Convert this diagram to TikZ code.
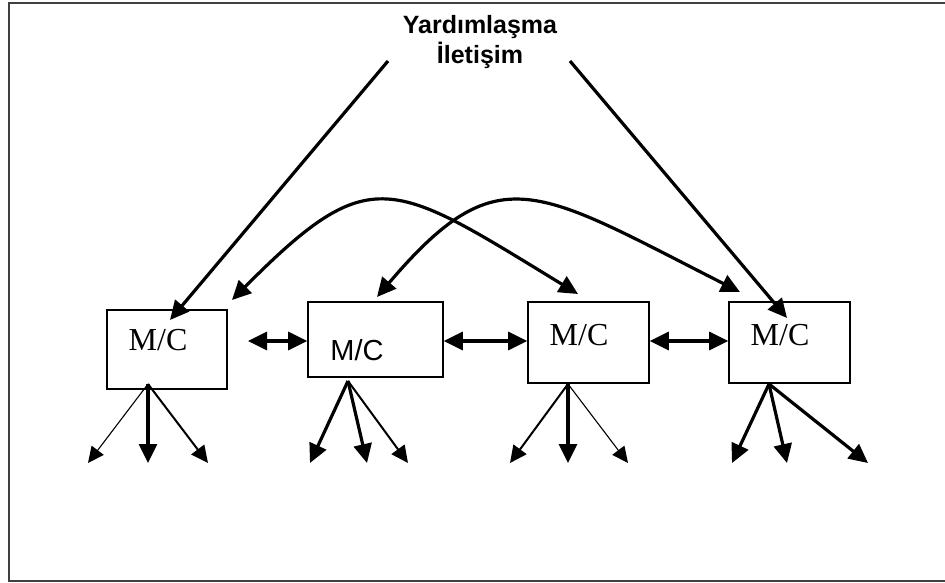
\documentclass[tikz,border=0pt]{standalone}
\usepackage{fontspec}
\setmainfont{Liberation Serif}
\newfontfamily\arialfont{Liberation Sans}
\usetikzlibrary{arrows.meta}
\begin{document}
\begin{tikzpicture}[x=1pt,y=-1pt,
  mcbox/.style={draw, line width=1.6pt, inner sep=0pt},
  mctext/.style={anchor=base, inner sep=0pt, font=\fontsize{32}{32}\selectfont},
  title/.style={anchor=base, inner sep=0pt, font=\arialfont\bfseries\fontsize{25}{25}\selectfont},
  frame/.style={draw=black!75, line width=2pt},
  heavy/.style={line width=3.2pt, -{Triangle[length=19pt,width=18pt]}},
  medium/.style={line width=2pt, -{Triangle[length=17pt,width=16pt]}},
  light/.style={line width=1.1pt, -{Triangle[length=16pt,width=15pt]}},
  twoway/.style={line width=3.2pt, {Triangle[length=19pt,width=18pt]}-{Triangle[length=19pt,width=18pt]}},
]
\useasboundingbox (0,0) rectangle (945,582);
% frame
\draw[frame] (945,3) -- (8.5,3) -- (8.5,581) -- (945,581);

% title
\node[title] (t1) at (480,33) {Yardımlaşma};
\node[title] (t2) at (480,63) {İletişim};

% boxes
\node[mcbox, minimum width=120pt, minimum height=79pt] (b1) at (167,349.5) {};
\node[mcbox, minimum width=135pt, minimum height=75pt] (b2) at (375.5,339.5) {};
\node[mcbox, minimum width=121pt, minimum height=81pt] (b3) at (588.5,342.5) {};
\node[mcbox, minimum width=121pt, minimum height=81pt] (b4) at (789.5,342.5) {};

\node[mctext] (l1) at (158,350) {M/C};
\node[mctext, font=\arialfont\fontsize{29}{29}\selectfont] (l2) at (357,360) {M/C};
\node[mctext] (l3) at (579,345) {M/C};
\node[mctext] (l4) at (780,345) {M/C};

% diagonal arrows from title
\coordinate (s1) at (388,61);
\coordinate (s2) at (570,61);
\coordinate (d1) at (170,320);
\coordinate (d2) at (787,318);
\draw[heavy] (s1) -- (d1);
\draw[heavy] (s2) -- (d2);

% crossing curves
\coordinate (ca) at (232,300);
\coordinate (cb) at (578,294);
\coordinate (cc) at (377,297);
\coordinate (cd) at (740,292);
\draw[twoway] (ca) .. controls (371,160) and (391,180) .. (cb);
\draw[twoway] (cc) .. controls (498,155) and (535,188) .. (cd);

% horizontal double arrows
\coordinate (h1) at (248,341);
\draw[twoway] (h1) -- (b2.west |- h1);
\draw[twoway] (b2.east |- h1) -- (b3.west |- h1);
\draw[twoway] (b3.east |- h1) -- (b4.west |- h1);

% downward arrows
\coordinate (o1) at (148,384);
\coordinate (o2) at (348,381);
\coordinate (o3) at (568,384);
\coordinate (o4) at (769,384);
\coordinate (e11) at (88,463);
\coordinate (e12) at (148,463);
\coordinate (e13) at (208,463);
\coordinate (e21) at (310,463);
\coordinate (e22) at (367,463);
\coordinate (e23) at (408,463);
\coordinate (e31) at (510,463);
\coordinate (e32) at (568,463);
\coordinate (e33) at (628,463);
\coordinate (e41) at (732,463);
\coordinate (e42) at (787,463);
\coordinate (e43) at (868,463);
\draw[light] (o1) -- (e11);
\draw[heavy] (o1) -- (e12);
\draw[medium] (o1) -- (e13);
\draw[heavy] (o2) -- (e21);
\draw[heavy] (o2) -- (e22);
\draw[medium] (o2) -- (e23);
\draw[medium] (o3) -- (e31);
\draw[heavy] (o3) -- (e32);
\draw[light] (o3) -- (e33);
\draw[heavy] (o4) -- (e41);
\draw[heavy] (o4) -- (e42);
\draw[heavy] (o4) -- (e43);
\end{tikzpicture}
\end{document}
